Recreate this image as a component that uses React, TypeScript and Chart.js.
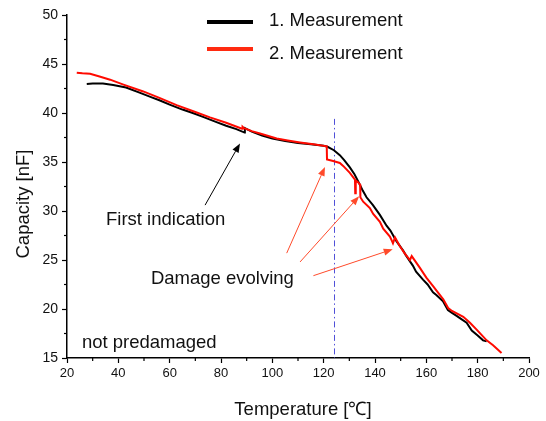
import { useEffect, useRef } from 'react';
import { Chart, registerables } from 'chart.js';
Chart.register(...registerables);

const FONT = '"Liberation Sans", Arial, sans-serif';

const xTicks = [20, 40, 60, 80, 100, 120, 140, 160, 180, 200];
const yTicks = [15, 20, 25, 30, 35, 40, 45, 50];

const seriesNames = ['1. Measurement', '2. Measurement'];

const blackT = [27.7, 30, 34, 38, 43, 48, 53, 56, 60, 65, 69, 73, 78, 82, 86, 89.2, 89.3, 92, 96, 100, 105, 110, 115, 120, 121.5, 124, 126.3, 128, 130.2, 132, 133.5, 135, 136.7, 139.2, 141.9, 144.5, 146, 148.4, 150.9, 152, 154.8, 156, 158.7, 160.5, 162.6, 164, 166.5, 168.4, 170, 171.8, 173.5, 175.7, 177.7, 180, 182.1, 183.5];
const blackC = [42.95, 43.0, 43.0, 42.85, 42.6, 42.1, 41.6, 41.3, 40.85, 40.35, 40.0, 39.6, 39.1, 38.7, 38.35, 38.0, 38.45, 38.1, 37.7, 37.4, 37.15, 36.95, 36.8, 36.65, 36.55, 36.2, 35.7, 35.2, 34.45, 33.75, 33.0, 32.2, 31.4, 30.6, 29.6, 28.5, 28.0, 26.9, 26.0, 25.5, 24.4, 23.8, 23.0, 22.5, 21.7, 21.4, 20.8, 19.9, 19.6, 19.3, 19.0, 18.6, 17.8, 17.3, 16.8, 16.7];

const redT = [23.8, 26, 29, 33, 36.8, 42, 49.7, 56, 62.7, 70, 75.7, 82, 88.2, 88.4, 89, 92, 95.2, 101.7, 106, 110.8, 116, 121.2, 121.3, 123.7, 126.3, 127.6, 130.2, 132.2, 132.3, 132.5, 133.5, 134.2, 134.3, 135.4, 138, 139.3, 141.9, 143.2, 145.8, 146.5, 147.0, 147.8, 149.7, 151.5, 153.6, 154.3, 157.5, 160, 162.7, 164.5, 166.6, 168.5, 170, 174.4, 177, 179.6, 183.5, 186, 189.3];
const redC = [44.1, 44.05, 44.0, 43.7, 43.4, 42.9, 42.2, 41.55, 40.8, 40.1, 39.55, 39.0, 38.4, 38.6, 38.45, 38.15, 37.9, 37.4, 37.2, 37.0, 36.8, 36.6, 35.25, 35.1, 34.9, 34.6, 33.9, 33.2, 31.8, 33.1, 32.9, 32.7, 31.4, 30.95, 30.3, 29.7, 28.9, 28.2, 27.4, 27.0, 26.7, 27.3, 26.4, 25.7, 25.0, 25.4, 24.2, 23.2, 22.3, 21.7, 21.0, 20.1, 19.8, 19.2, 18.6, 17.9, 16.8, 16.3, 15.5];

const markerT = 124;
const markerTop = 39.4;

// annotation texts: [text, T, C(baseline)]
const labelTexts = ['First indication', 'Damage evolving', 'not predamaged'];
const labelT = [35.2, 52.7, 25.8];
const labelC = [28.57, 22.55, 16.02];

// arrows: tail (T,C) -> tip (T,C)
const arrowTailT = [73.8, 105.6, 110.8, 116.0];
const arrowTailC = [30.6, 25.7, 24.8, 23.4];
const arrowTipT = [87.4, 120.5, 133.8, 146.9];
const arrowTipC = [36.9, 34.5, 31.5, 26.1];
const arrowColors = ['#000000', '#ff4a2a', '#ff4a2a', '#ff4a2a'];

const BLACK = '#000000';
const RED = '#ff0a00';

const toPts = (xs: number[], ys: number[]) => xs.map((x, i) => ({ x, y: ys[i] }));

const annotPlugin = {
  id: 'annot',
  beforeDatasetsDraw(chart: any) {
    const { ctx, scales } = chart;
    const x = scales.x, y = scales.y;
    ctx.save();
    ctx.strokeStyle = '#5050d8';
    ctx.lineWidth = 1;
    ctx.setLineDash([6, 3, 1.5, 3]);
    const px = Math.round(x.getPixelForValue(markerT)) + 0.5;
    ctx.beginPath();
    ctx.moveTo(px, y.getPixelForValue(markerTop));
    ctx.lineTo(px, y.getPixelForValue(15));
    ctx.stroke();
    ctx.restore();
  },
  afterDraw(chart: any) {
    const { ctx, scales, chartArea } = chart;
    const x = scales.x, y = scales.y;
    ctx.save();
    // minor ticks
    ctx.strokeStyle = '#000';
    ctx.lineWidth = 1.2;
    for (let v = 30; v < 200; v += 20) {
      const p = x.getPixelForValue(v);
      ctx.beginPath();
      ctx.moveTo(p, chartArea.bottom);
      ctx.lineTo(p, chartArea.bottom + 3);
      ctx.stroke();
    }
    for (let v = 17.5; v < 50; v += 5) {
      const p = y.getPixelForValue(v);
      ctx.beginPath();
      ctx.moveTo(chartArea.left - 3, p);
      ctx.lineTo(chartArea.left, p);
      ctx.stroke();
    }
    // arrows
    for (let i = 0; i < arrowTailT.length; i++) {
      const x0 = x.getPixelForValue(arrowTailT[i]);
      const y0 = y.getPixelForValue(arrowTailC[i]);
      const x1 = x.getPixelForValue(arrowTipT[i]);
      const y1 = y.getPixelForValue(arrowTipC[i]);
      const ang = Math.atan2(y1 - y0, x1 - x0);
      const L = 9, W = 3.5;
      const bx = x1 - L * Math.cos(ang), by = y1 - L * Math.sin(ang);
      ctx.strokeStyle = arrowColors[i];
      ctx.fillStyle = arrowColors[i];
      ctx.lineWidth = 1;
      ctx.beginPath();
      ctx.moveTo(x0, y0);
      ctx.lineTo(bx, by);
      ctx.stroke();
      ctx.beginPath();
      ctx.moveTo(x1, y1);
      ctx.lineTo(bx + W * Math.sin(ang), by - W * Math.cos(ang));
      ctx.lineTo(bx - W * Math.sin(ang), by + W * Math.cos(ang));
      ctx.closePath();
      ctx.fill();
    }
    // texts
    ctx.fillStyle = '#111';
    ctx.font = `18.5px ${FONT}`;
    ctx.textAlign = 'left';
    ctx.textBaseline = 'alphabetic';
    for (let i = 0; i < labelTexts.length; i++) {
      ctx.fillText(labelTexts[i], x.getPixelForValue(labelT[i]), y.getPixelForValue(labelC[i]));
    }
    // legend
    const colors = [BLACK, '#ff2a10'];
    const lineY = [chartArea.top + 7, chartArea.top + 34];
    const textY = [chartArea.top + 11, chartArea.top + 44];
    for (let i = 0; i < 2; i++) {
      ctx.strokeStyle = colors[i];
      ctx.lineWidth = 4;
      ctx.beginPath();
      ctx.moveTo(207, lineY[i]);
      ctx.lineTo(253, lineY[i]);
      ctx.stroke();
      ctx.fillStyle = '#111';
      ctx.fillText(seriesNames[i], 269, textY[i]);
    }
    // axis titles
    ctx.textAlign = 'center';
    ctx.fillText('Temperature [℃]', (chartArea.left + chartArea.right) / 2 + 5, chartArea.bottom + 57);
    ctx.translate(29, 204);
    ctx.rotate(-Math.PI / 2);
    ctx.fillText('Capacity [nF]', 0, 0);
    ctx.restore();
  },
};

export default function App() {
  const ref = useRef<HTMLCanvasElement>(null);
  useEffect(() => {
    const chart = new Chart(ref.current!, {
      type: 'line',
      data: {
        datasets: [
          {
            label: seriesNames[1],
            data: toPts(redT, redC),
            borderColor: RED,
            borderWidth: 2,
            pointRadius: 0,
            tension: 0,
            order: 0,
          },
          {
            label: seriesNames[0],
            data: toPts(blackT, blackC),
            borderColor: BLACK,
            borderWidth: 2,
            pointRadius: 0,
            tension: 0,
            order: 1,
          },
        ],
      },
      options: {
        animation: false,
        responsive: false,
        maintainAspectRatio: false,
        layout: { padding: { top: 15, right: 17, left: 0, bottom: 0 } },
        plugins: { legend: { display: false }, tooltip: { enabled: false }, title: { display: false } },
        scales: {
          x: {
            type: 'linear',
            min: 20,
            max: 200,
            afterFit: (s: any) => { s.height = 63; },
            afterBuildTicks: (s: any) => { s.ticks = xTicks.map((v) => ({ value: v })); },
            ticks: { color: '#111', font: { family: FONT, size: 13 }, padding: 3, maxRotation: 0 },
            grid: { drawOnChartArea: false, tickLength: 5, tickColor: '#000', tickWidth: 1.2 },
            border: { color: '#000', width: 1.5 },
          },
          y: {
            type: 'linear',
            min: 15,
            max: 50,
            afterFit: (s: any) => { s.width = 67; },
            afterBuildTicks: (s: any) => { s.ticks = yTicks.map((v) => ({ value: v })); },
            ticks: { color: '#111', font: { family: FONT, size: 14 }, padding: 4 },
            grid: { drawOnChartArea: false, tickLength: 5, tickColor: '#000', tickWidth: 1.2 },
            border: { color: '#000', width: 1.5 },
          },
        },
      },
      plugins: [annotPlugin],
    } as any);
    return () => chart.destroy();
  }, []);
  return (
    <div style={{ position: 'absolute', left: 0, top: 0, width: 546, height: 421, background: '#fff' }}>
      <canvas ref={ref} width={546} height={421} style={{ display: 'block', width: 546, height: 421 }} />
    </div>
  );
}
